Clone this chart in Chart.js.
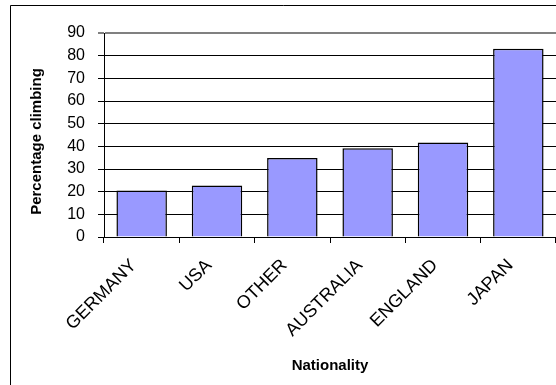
<!DOCTYPE html>
<html>
<head>
<meta charset="utf-8">
<script src="https://cdn.jsdelivr.net/npm/chart.js@4"></script>
<style>
  html, body { margin: 0; padding: 0; background: #ffffff; }
  #wrap { width: 556px; height: 385px; }
</style>
</head>
<body>
<div id="wrap"><canvas id="c" width="556" height="385"></canvas></div>
<script>
// Share of each nationality that climbs
const nationalities = ['GERMANY', 'USA', 'OTHER', 'AUSTRALIA', 'ENGLAND', 'JAPAN'];
const percentClimbing = [20.5, 22.7, 34.9, 39.1, 41.7, 83];
const yTicks = [0, 10, 20, 30, 40, 50, 60, 70, 80, 90];
const yTitle = 'Percentage climbing';
const xTitle = 'Nationality';

const FONT = "'Liberation Sans', Arial, sans-serif";

// Outer frame of the chart box (left and top edges)
const framePlugin = {
  id: 'frame',
  beforeDraw(chart) {
    const ctx = chart.ctx;
    ctx.save();
    ctx.strokeStyle = '#000000';
    ctx.lineWidth = 1;
    ctx.beginPath();
    ctx.moveTo(10.5, 390);
    ctx.lineTo(10.5, 5.5);
    ctx.lineTo(560, 5.5);
    ctx.stroke();
    ctx.restore();
  }
};

// Vertical caption for the value axis, set a little below the plot's middle
const yCaptionPlugin = {
  id: 'yCaption',
  afterDraw(chart) {
    const area = chart.chartArea;
    const ctx = chart.ctx;
    ctx.save();
    ctx.translate(37, (area.top + area.bottom) / 2 + 6.5);
    ctx.rotate(-Math.PI / 2);
    ctx.font = 'bold 15px ' + FONT;
    ctx.fillStyle = '#000000';
    ctx.textAlign = 'center';
    ctx.textBaseline = 'middle';
    ctx.fillText(yTitle, 0, 0);
    ctx.restore();
  }
};

new Chart(document.getElementById('c'), {
  type: 'bar',
  data: {
    labels: nationalities,
    datasets: [{
      data: percentClimbing,
      backgroundColor: '#9999FF',
      borderColor: '#000000',
      borderWidth: 1.5,
      categoryPercentage: 1,
      barPercentage: 0.67
    }]
  },
  options: {
    responsive: false,
    animation: false,
    devicePixelRatio: 1,
    layout: { padding: { top: 33, right: 0, bottom: 0, left: 0 } },
    plugins: { legend: { display: false }, tooltip: { enabled: false } },
    scales: {
      x: {
        offset: true,
        grid: {
          display: true,
          drawOnChartArea: false,
          drawTicks: true,
          tickLength: 6,
          color: '#000000',
          offset: true
        },
        border: { display: true, color: '#000000', width: 1 },
        ticks: {
          minRotation: 45,
          maxRotation: 45,
          autoSkip: false,
          padding: 12,
          labelOffset: -8,
          color: '#000000',
          font: { family: FONT, size: 18 }
        },
        title: {
          display: true,
          text: xTitle,
          color: '#000000',
          font: { family: FONT, size: 15, weight: 'bold' },
          padding: { top: 0, bottom: 10 }
        },
        afterFit(scale) { scale.height = 148; }
      },
      y: {
        min: 0,
        max: 90,
        afterBuildTicks(scale) { scale.ticks = yTicks.map(v => ({ value: v })); },
        grid: {
          color: ctx => (ctx.tick && ctx.tick.value === 90 ? '#808080' : '#000000'),
          lineWidth: ctx => (ctx.tick && ctx.tick.value === 90 ? 2 : 1),
          tickLength: 6,
          drawTicks: true
        },
        border: { display: true, color: '#000000', width: 1 },
        ticks: {
          padding: 13,
          color: '#000000',
          font: { family: FONT, size: 16 }
        },
        title: { display: false },
        afterFit(scale) { scale.width = 104; }
      }
    }
  },
  plugins: [framePlugin, yCaptionPlugin]
});
</script>
</body>
</html>
